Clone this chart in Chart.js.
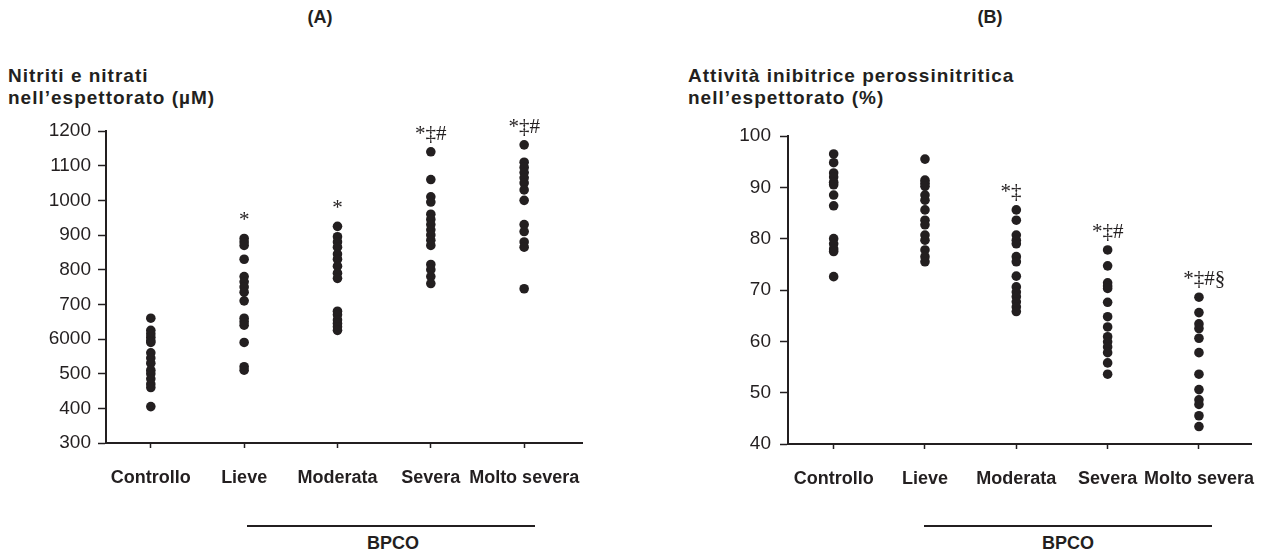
<!DOCTYPE html>
<html>
<head>
<meta charset="utf-8">
<script src="https://cdn.jsdelivr.net/npm/chart.js@4/dist/chart.umd.min.js"></script>
<style>
body { margin: 0; background: #fff; }
#wrap { position: relative; width: 1275px; height: 552px; font-family: 'Liberation Sans', Arial, sans-serif; color: #231f20; }
.panel { position: absolute; font-weight: bold; font-size: 18px; transform: translateX(-50%); }
.title { position: absolute; font-weight: bold; font-size: 19px; letter-spacing: 1px; line-height: 22px; white-space: nowrap; }
.rule { position: absolute; height: 2px; background: #231f20; }
.group { position: absolute; font-weight: bold; font-size: 18px; transform: translateX(-50%); }
.box { position: absolute; }
</style>
</head>
<body>
<div id="wrap">
  <div class="panel" style="left:320px; top:7px">(A)</div>
  <div class="panel" style="left:990px; top:7px">(B)</div>
  <div class="title" style="left:8px; top:65px">Nitriti e nitrati<br>nell’espettorato (µM)</div>
  <div class="title" style="left:688px; top:65px">Attività inibitrice perossinitritica<br>nell’espettorato (%)</div>
  <div class="box" style="left:0; top:100px; width:600px; height:400px"><canvas id="chartA"></canvas></div>
  <div class="box" style="left:640px; top:100px; width:635px; height:400px"><canvas id="chartB"></canvas></div>
  <div class="rule" style="left:247px; top:525px; width:288px"></div>
  <div class="group" style="left:393px; top:533px">BPCO</div>
  <div class="rule" style="left:924px; top:525px; width:288px"></div>
  <div class="group" style="left:1068px; top:533px">BPCO</div>
</div>
<script>
// categorie comuni ai due pannelli
const categorie = ['Controllo', 'Lieve', 'Moderata', 'Severa', 'Molto severa'];

// (A) nitriti e nitrati (µM)
const nitritiControllo = [660, 625, 615, 605, 595, 590, 560, 545, 530, 510, 500, 485, 470, 460, 405];
const nitritiLieve = [890, 880, 870, 830, 780, 765, 750, 735, 710, 660, 650, 640, 590, 520, 510];
const nitritiModerata = [925, 895, 880, 865, 845, 830, 810, 790, 775, 680, 670, 655, 645, 635, 625];
const nitritiSevera = [1140, 1060, 1010, 995, 960, 945, 930, 915, 900, 885, 870, 815, 800, 780, 760];
const nitritiMolto = [1160, 1110, 1095, 1080, 1065, 1050, 1030, 1000, 930, 910, 880, 865, 745];
const tickA = ['300', '400', '500', '6000', '700', '800', '900', '1000', '1100', '1200'];
const noteA = ['', '*', '*', '*‡#', '*‡#'];

// (B) attività inibitrice perossinitritica (%)
const attivControllo = [96.5, 94.8, 92.8, 92, 91, 90.5, 88.5, 86.4, 80, 79, 78, 77.5, 72.6];
const attivLieve = [95.5, 91.4, 90.8, 90.2, 88.5, 87.5, 85.6, 83.6, 82.7, 80.7, 79.7, 77.8, 76.5, 75.5];
const attivModerata = [85.6, 83.6, 80.7, 79.7, 79, 76.5, 75.5, 72.7, 70.6, 69.6, 68.7, 67.7, 66.7, 65.8];
const attivSevera = [77.8, 74.7, 71.4, 70.8, 70.3, 67.6, 64.8, 62.8, 60.9, 59.9, 58.9, 57.8, 55.8, 53.6];
const attivMolto = [68.6, 65.6, 63.4, 62.5, 60.6, 57.8, 53.6, 50.6, 48.6, 47.7, 45.5, 43.4];
const tickB = ['40', '50', '60', '70', '80', '90', '100'];
const noteB = ['', '', '*‡', '*‡#', '*‡#§'];

const ink = '#231f20';

function punti(colonne) {
    let out = [];
    colonne.forEach((col, i) => col.forEach(v => out.push({ x: i, y: v })));
    return out;
}

// simboli di significatività sopra ogni colonna
const notePlugin = {
    id: 'note',
    afterDatasetsDraw(chart, args, opts) {
        const ctx = chart.ctx;
        const x = chart.scales.x, y = chart.scales.y;
        ctx.save();
        ctx.font = '21px "Liberation Serif", "DejaVu Serif", serif';
        ctx.fillStyle = ink;
        ctx.textBaseline = 'alphabetic';
        opts.testi.forEach((t, i) => {
            if (!t) return;
            const px = x.getPixelForValue(i);
            const py = y.getPixelForValue(Math.max(...opts.colonne[i])) - 12;
            const k = t.indexOf('‡');
            let x0;
            if (k < 0) x0 = px - ctx.measureText(t).width / 2;
            else x0 = px - ctx.measureText(t.slice(0, k)).width - ctx.measureText('‡').width / 2;
            ctx.fillText(t, x0, py);
        });
        ctx.restore();
    }
};

function creaGrafico(id, colonne, cfg) {
    return new Chart(document.getElementById(id), {
        type: 'scatter',
        data: {
            datasets: [{
                data: punti(colonne),
                backgroundColor: ink,
                borderWidth: 0,
                pointRadius: 4.8,
                pointHoverRadius: 4.8
            }]
        },
        options: {
            responsive: true,
            maintainAspectRatio: false,
            animation: false,
            events: [],
            layout: { padding: { top: cfg.top, right: cfg.right, left: 0, bottom: 0 } },
            plugins: {
                legend: { display: false },
                tooltip: { enabled: false },
                note: { testi: cfg.note, colonne: colonne }
            },
            scales: {
                x: {
                    type: 'linear',
                    min: cfg.xmin,
                    max: cfg.xmax,
                    afterBuildTicks: s => { s.ticks = categorie.map((c, i) => ({ value: i })); },
                    afterFit: s => { s.height = cfg.xh; },
                    ticks: {
                        callback: v => categorie[v],
                        color: ink,
                        font: { family: 'Liberation Sans', size: 18, weight: 'bold' },
                        padding: 19,
                        maxRotation: 0,
                        autoSkip: false
                    },
                    grid: { drawOnChartArea: false, tickLength: 5, tickColor: ink, tickWidth: 1.5 },
                    border: { color: ink, width: 2 }
                },
                y: {
                    min: cfg.ymin,
                    max: cfg.ymax,
                    afterFit: s => { s.width = cfg.yw; },
                    ticks: {
                        stepSize: cfg.step / 2,
                        callback: v => (v % cfg.step === 0 ? cfg.tick[(v - cfg.ymin) / cfg.step] : ''),
                        color: ink,
                        font: { family: 'Liberation Sans', size: 19 },
                        padding: cfg.pad
                    },
                    grid: { drawOnChartArea: false, tickLength: 8, tickColor: ink, tickWidth: 1.5 },
                    border: { color: ink, width: 2 }
                }
            }
        },
        plugins: [notePlugin]
    });
}

creaGrafico('chartA',
    [nitritiControllo, nitritiLieve, nitritiModerata, nitritiSevera, nitritiMolto],
    { top: 31, right: 15, xmin: -0.48, xmax: 4.62, xh: 57, ymin: 300, ymax: 1200, step: 100, yw: 106, pad: 7, tick: tickA, note: noteA });

creaGrafico('chartB',
    [attivControllo, attivLieve, attivModerata, attivSevera, attivMolto],
    { top: 36, right: 18, xmin: -0.5, xmax: 4.57, xh: 56, ymin: 40, ymax: 100, step: 10, yw: 148, pad: 9, tick: tickB, note: noteB });
</script>
</body>
</html>
